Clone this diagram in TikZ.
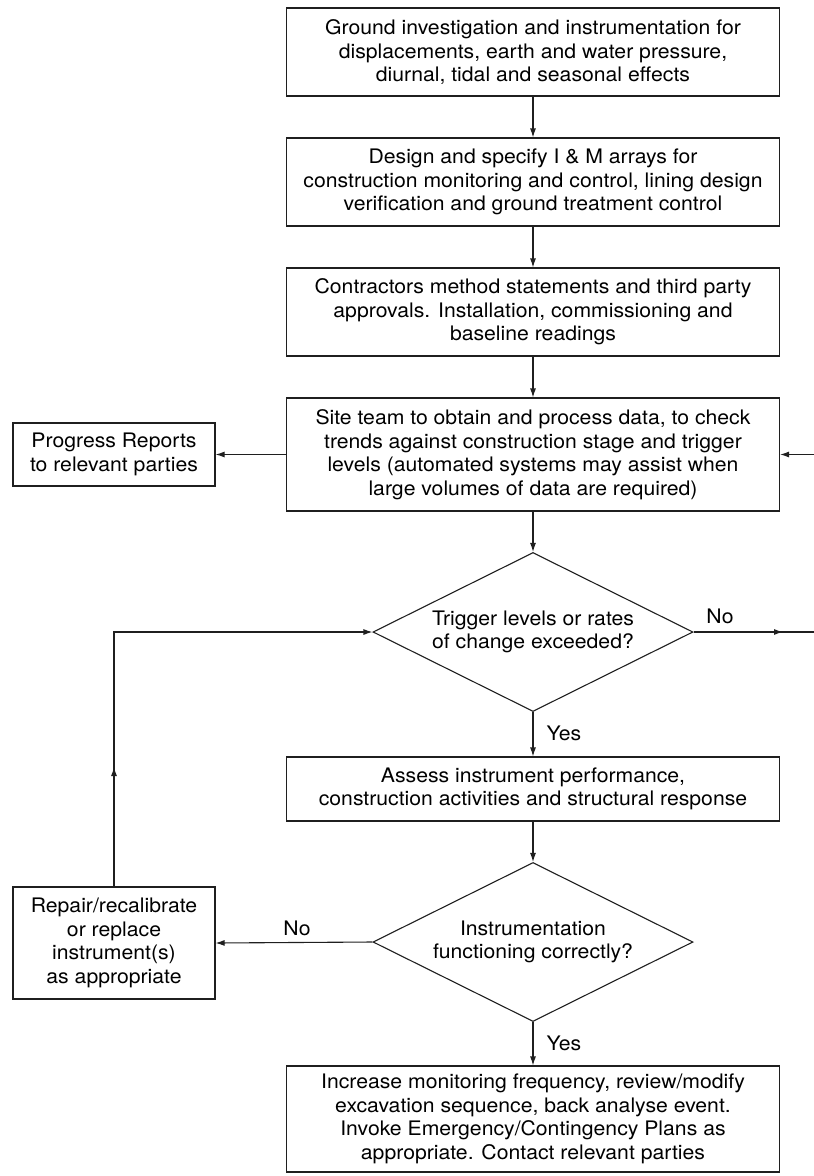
\documentclass[tikz,border=0pt]{standalone}
\usepackage{fontspec}
\setmainfont{TeX Gyre Heros}[FakeStretch=1.06]
\usetikzlibrary{shapes.geometric,arrows.meta}

\tikzset{
  txt/.style={font=\fontsize{20}{23.5}\selectfont},
  flowbox/.style={txt, draw=black!88, line width=1.1pt, rectangle, align=center,
    inner sep=0pt, minimum width=493pt},
  sidebox/.style={txt, draw=black!88, line width=1.1pt, rectangle, align=center,
    inner sep=0pt, minimum width=202pt},
  decision/.style={txt, draw=black!88, line width=1.1pt, diamond, aspect=2, align=center,
    inner sep=0pt, minimum width=320pt, minimum height=159pt},
  lbl/.style={txt, inner sep=0pt},
  link/.style={draw=black!88, line width=1.1pt},
  arr/.style={link, -{Latex[length=9pt,width=6pt]}}
}

\begin{document}
\begin{tikzpicture}[x=1pt,y=1pt]
\useasboundingbox (0,0) rectangle (814,-1176);

% main column
\node[flowbox, minimum height=88pt] (gi) at (533,-52)
  {Ground investigation and instrumentation for\\displacements, earth and water pressure,\\diurnal, tidal and seasonal effects};
\node[flowbox, minimum height=88pt] (ds) at (533,-182)
  {Design and specify I \& M arrays for\\construction monitoring and control, lining design\\verification and ground treatment control};
\node[flowbox, minimum height=88pt] (cm) at (533,-312)
  {Contractors method statements and third party\\approvals. Installation, commissioning and\\baseline readings};
\node[flowbox, minimum height=113pt] (st) at (533,-454.5)
  {Site team to obtain and process data, to check\\trends against construction stage and trigger\\levels (automated systems may assist when\\large volumes of data are required)};
\node[decision] (tr) at (533,-632)
  {Trigger levels or rates\\of change exceeded?};
\node[flowbox, minimum height=64pt] (as) at (533,-789)
  {Assess instrument performance,\\construction activities and structural response};
\node[decision] (fc) at (533,-942)
  {Instrumentation\\functioning correctly?};
\node[flowbox, minimum height=106pt] (inc) at (533,-1119)
  {Increase monitoring frequency, review/modify\\excavation sequence, back analyse event.\\Invoke Emergency/Contingency Plans as\\appropriate. Contact relevant parties};

% side boxes
\node[sidebox, minimum height=63pt] (pr) at (114,-454.5)
  {Progress Reports\\to relevant parties};
\node[sidebox, minimum height=112pt] (rp) at (114,-943)
  {Repair/recalibrate\\or replace\\instrument(s)\\as appropriate};

% labels
\node[lbl] (no1) at (720,-616) {No};
\node[lbl] (yes1) at (564,-733) {Yes};
\node[lbl] (no2) at (297,-928) {No};
\node[lbl] (yes2) at (564,-1043) {Yes};

% free ends at the right margin, and the mid-line arrowheads
\coordinate (noTail) at (770,-632);
\coordinate (noTip) at (783,-632);
\coordinate (rightOut) at (814,-632);
\coordinate (rightIn) at (814,-454.5);
\coordinate (loopTail) at (114,-780);
\coordinate (loopTip) at (114,-767);

% connectors
\draw[arr] (gi) -- (ds);
\draw[arr] (ds) -- (cm);
\draw[arr] (cm) -- (st);
\draw[arr] (st) -- (tr);
\draw[arr] (tr) -- (as);
\draw[arr] (as) -- (fc);
\draw[arr] (fc) -- (inc);
\draw[arr] (st.west) -- (pr.east);
\draw[arr] (rightIn) -- (st.east);
\draw[link] (tr.east) -- (rightOut);
\draw[arr] (noTail) -- (noTip);
\draw[arr] (fc.west) -- (rp.east);
\draw[arr] (rp.north) |- (tr.west);
\draw[arr] (loopTail) -- (loopTip);
\end{tikzpicture}
\end{document}
